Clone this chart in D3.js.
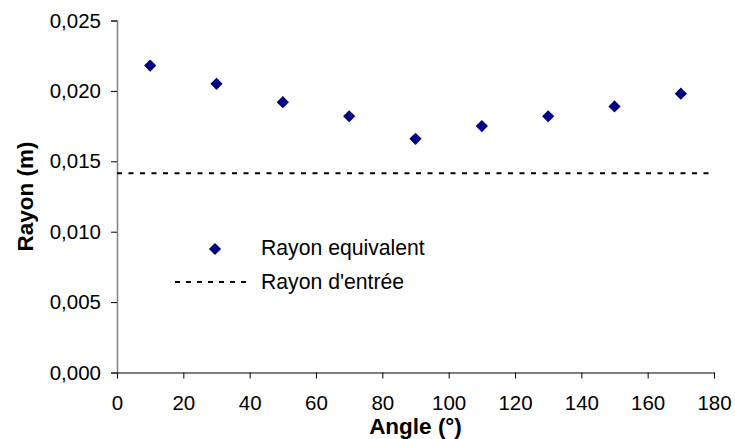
<!DOCTYPE html>
<html>
<head>
<meta charset="utf-8">
<script src="https://cdn.jsdelivr.net/npm/d3@7"></script>
<style>
  html, body { margin: 0; padding: 0; background: #fff; }
  svg { display: block; font-family: "Liberation Sans", Arial, sans-serif; }
</style>
</head>
<body>
<svg id="chart" width="735" height="439"></svg>
<script>
// ---- data ----
const angles = [10, 30, 50, 70, 90, 110, 130, 150, 170];
const rayonEquivalent = [0.0218, 0.0205, 0.0192, 0.0182, 0.0166, 0.0175, 0.0182, 0.0189, 0.0198];
const rayonEntree = 0.01415;
const xTicks = [0, 20, 40, 60, 80, 100, 120, 140, 160, 180];
const yTicks = [0, 0.005, 0.010, 0.015, 0.020, 0.025];
const seriesNames = ["Rayon equivalent", "Rayon d'entrée"];
const xTitle = "Angle (°)";
const yTitle = "Rayon (m)";

// ---- layout ----
const svg = d3.select("#chart");
const mLeft = 117, mRight = 714, mTop = 20.5, mBottom = 372.5;
const tickFont = 20.5, legendFont = 21.2, titleFont = 22.5;

const x = d3.scaleLinear().domain([0, 180]).range([mLeft, mRight]);
const y = d3.scaleLinear().domain([0, 0.025]).range([mBottom, mTop]);
const fmt = d => d3.format(".3f")(d).replace(".", ",");

// y axis
const yAxis = svg.append("g")
  .attr("transform", `translate(${mLeft},0)`)
  .call(d3.axisLeft(y).tickValues(yTicks).tickFormat(fmt).tickSize(6).tickPadding(10));
yAxis.select(".domain").attr("stroke", "#808080").attr("stroke-width", 1.5);
yAxis.selectAll(".tick line").attr("stroke", "#000");
yAxis.selectAll("text").attr("font-size", tickFont).attr("fill", "#000")
  .attr("font-family", "Liberation Sans, Arial, sans-serif");

// x axis
const xAxis = svg.append("g")
  .attr("transform", `translate(0,${mBottom})`)
  .call(d3.axisBottom(x).tickValues(xTicks).tickFormat(d3.format("d")).tickSize(6).tickSizeOuter(0).tickPadding(17));
xAxis.select(".domain").attr("stroke", "#000").attr("stroke-width", 1.2);
xAxis.selectAll(".tick line").attr("stroke", "#000");
xAxis.selectAll("text").attr("font-size", tickFont).attr("fill", "#000")
  .attr("font-family", "Liberation Sans, Arial, sans-serif");

// dashed reference line
svg.append("line")
  .attr("x1", x(0)).attr("x2", x(179.5))
  .attr("y1", y(rayonEntree)).attr("y2", y(rayonEntree))
  .attr("stroke", "#000").attr("stroke-width", 2)
  .attr("stroke-dasharray", "5,6.5");

// points
const diamond = d3.symbol().type(d3.symbolDiamond2).size(95);
svg.append("g").selectAll("path")
  .data(angles.map((a, i) => [a, rayonEquivalent[i]]))
  .join("path")
  .attr("d", diamond)
  .attr("transform", d => `translate(${x(d[0])},${y(d[1])})`)
  .attr("fill", "#000080");

// titles
svg.append("text")
  .attr("x", (mLeft + mRight) / 2).attr("y", 433.5)
  .attr("text-anchor", "middle").attr("font-weight", "bold").attr("font-size", titleFont)
  .text(xTitle);
svg.append("text")
  .attr("transform", `translate(32.5,${(mTop + mBottom) / 2}) rotate(-90)`)
  .attr("text-anchor", "middle").attr("font-weight", "bold").attr("font-size", titleFont)
  .text(yTitle);

// legend
const lg = svg.append("g");
lg.append("path").attr("d", diamond).attr("transform", "translate(215,249)").attr("fill", "#000080");
lg.append("text").attr("x", 261).attr("y", 254.5).attr("font-size", legendFont).text(seriesNames[0]);
lg.append("line").attr("x1", 175).attr("x2", 252).attr("y1", 282).attr("y2", 282)
  .attr("stroke", "#000").attr("stroke-width", 2).attr("stroke-dasharray", "5,6");
lg.append("text").attr("x", 261).attr("y", 288.5).attr("font-size", legendFont).text(seriesNames[1]);
</script>
</body>
</html>
